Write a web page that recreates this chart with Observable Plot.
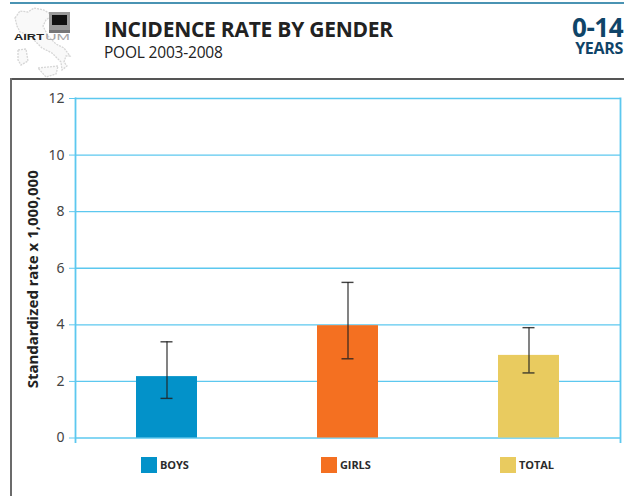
<!DOCTYPE html>
<html><head><meta charset="utf-8">
<script src="https://cdn.jsdelivr.net/npm/d3@7"></script>
<script src="https://cdn.jsdelivr.net/npm/@observablehq/plot@0.6"></script>
<style>
html,body{margin:0;padding:0;background:#fff;overflow:hidden}
body{font-family:"Open Sans",sans-serif;color:#222}
#page{position:relative;width:624px;height:496px;overflow:hidden}
#rule{position:absolute;left:10px;right:0;top:2px;height:2px;background:#4a93b3}
#frameTop{position:absolute;left:10px;right:0;top:78px;height:2px;background:#555}
#frameLeft{position:absolute;left:10px;width:2px;top:78px;bottom:0;background:#6b6b6b}
#logo{position:absolute;left:12px;top:6px}
#title{position:absolute;left:104px;top:16px;font-size:21px;font-weight:700;line-height:27px;white-space:nowrap;letter-spacing:-.25px}
#sub{position:absolute;left:104px;top:43px;font-size:15.5px;line-height:19px;white-space:nowrap;letter-spacing:-.2px}
#age{position:absolute;right:1px;top:14px;text-align:right;color:#0f4468;font-weight:700;white-space:nowrap}
#age .a{font-size:26px;line-height:27px;letter-spacing:-.5px}
#age .b{font-size:16px;line-height:15px;letter-spacing:-.3px}
#chart{position:absolute;left:0;top:81px}
#legend span{position:absolute;font-size:11px;font-weight:700;line-height:16px;top:457px;letter-spacing:-.1px;color:#2b2b2b;white-space:nowrap}
#legend i{position:absolute;top:457px;width:16px;height:16px}
</style></head>
<body>
<div id="page">
<div id="rule"></div>
<svg id="logo" width="62" height="72" viewBox="0 0 62 72">
<path d="M3 12 L8 5 L16 6 L22 2 L32 4 L40 9 L34 14 L31 20 L36 30 L44 38 L52 42 L58 50 L54 50 L52 56 L55 60 L50 64 L49 56 L40 47 L30 42 L22 34 L14 28 L8 26 L5 20 Z" fill="#f9f9f9" stroke="#d6d6d6" stroke-width="1.3" stroke-dasharray="2 1"/>
<path d="M6 44 L14 43 L16 55 L9 59 L6 54 Z M26 62 L46 60 L44 68 L34 71 Z" fill="#f9f9f9" stroke="#d6d6d6" stroke-width="1.3" stroke-dasharray="2 1"/>
<rect x="37" y="6" width="21" height="18" fill="#9a9a9a"/>
<rect x="40" y="9" width="15" height="10" fill="#111"/>
<rect x="37" y="24" width="21" height="3" fill="#777"/>
<text x="2" y="33.5" font-family="Liberation Sans" font-size="9.5" font-weight="700" fill="#222" textLength="30" lengthAdjust="spacingAndGlyphs">AIRT</text>
<text x="33" y="33.5" font-family="Liberation Sans" font-size="9.5" fill="#a5a5a5" textLength="25" lengthAdjust="spacingAndGlyphs">UM</text>
</svg>
<div id="title">INCIDENCE RATE BY GENDER</div>
<div id="sub">POOL 2003-2008</div>
<div id="age"><div class="a">0-14</div><div class="b">YEARS</div></div>
<div id="chart"></div>
<div id="frameTop"></div><div id="frameLeft"></div>
<div id="legend"></div>
</div>
<script>
const categories = ["BOYS", "GIRLS", "TOTAL"];
const rates = [2.17, 3.97, 2.92];
const lower = [1.4, 2.8, 2.3];
const upper = [3.4, 5.5, 3.9];
const colors = ["#0392c9", "#f47021", "#e9cb5f"];
const yTicks = [0, 2, 4, 6, 8, 10, 12];
const legendSwatchX = [141, 321, 500];
const yLabel = "Standardized rate x 1,000,000";

const rows = categories.map((c, i) => ({c, rate: rates[i], lo: lower[i], hi: upper[i]}));
const grid = "#5cc8ef";

const plot = Plot.plot({
  width: 624, height: 370,
  marginTop: 17, marginBottom: 13.5, marginLeft: 75, marginRight: 4,
  style: {background: "transparent", overflow: "visible"},
  x: {domain: categories, paddingInner: 0.664, paddingOuter: 0.332, align: 0.5, axis: null},
  y: {domain: [0, 12]},
  color: {domain: categories, range: colors},
  marks: [
    Plot.ruleY(yTicks, {stroke: grid, strokeWidth: 1.4}),
    Plot.frame({anchor: "left", stroke: grid, strokeWidth: 1.8, insetBottom: -4}),
    Plot.frame({anchor: "right", stroke: grid, strokeWidth: 1.8, insetBottom: -4}),
    Plot.axisY({ticks: yTicks, tickSize: 6, tickPadding: 5, stroke: grid, strokeOpacity: 1, tickFormat: d => d, fontSize: 14, color: "#444", label: null}),
    Plot.text([yLabel], {frameAnchor: "left", textAnchor: "middle", rotate: -90, dx: -42, dy: 11, fontSize: 15, fontWeight: 700, fill: "#222"}),
    Plot.barY(rows, {x: "c", y: "rate", fill: "c"}),
    Plot.ruleX(rows, {x: "c", y1: "lo", y2: "hi", stroke: "#222", strokeOpacity: 0.8, strokeWidth: 1.4}),
    Plot.tickY(rows, {x: "c", y: "lo", stroke: "#222", strokeOpacity: 0.85, strokeWidth: 1.4, insetLeft: 24.5, insetRight: 24.5}),
    Plot.tickY(rows, {x: "c", y: "hi", stroke: "#222", strokeOpacity: 0.85, strokeWidth: 1.4, insetLeft: 24.5, insetRight: 24.5})
  ]
});
document.getElementById("chart").append(plot);

const legend = document.getElementById("legend");
categories.forEach((c, i) => {
  const sw = document.createElement("i");
  sw.style.left = legendSwatchX[i] + "px";
  sw.style.background = colors[i];
  const t = document.createElement("span");
  t.style.left = (legendSwatchX[i] + 19) + "px";
  t.textContent = c;
  legend.append(sw, t);
});
</script>
</body></html>
